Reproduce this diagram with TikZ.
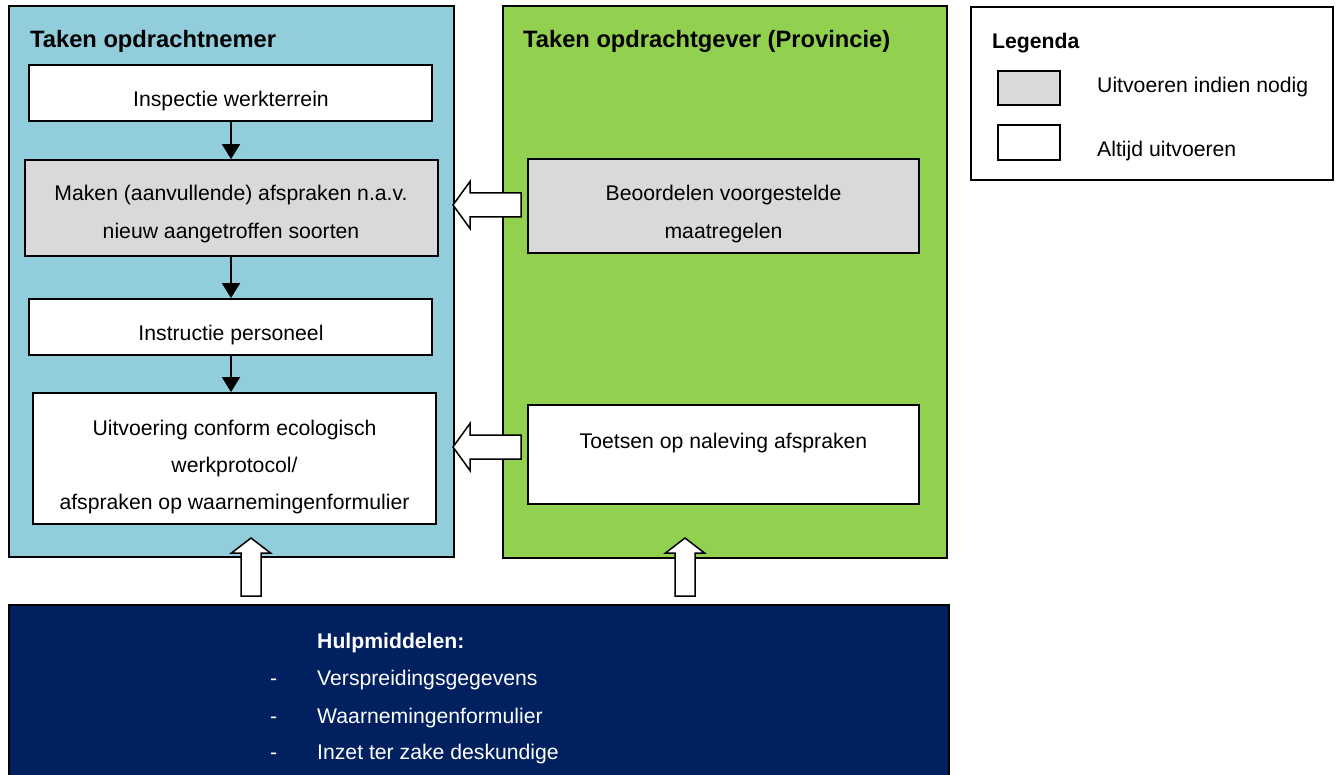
\documentclass[tikz,border=0pt]{standalone}
\usepackage{fontspec}
\setmainfont{Liberation Sans}
\usetikzlibrary{arrows.meta,calc}
\definecolor{panelblue}{HTML}{92CDDC}
\definecolor{panelgreen}{HTML}{92D050}
\definecolor{boxgray}{HTML}{D9D9D9}
\definecolor{navy}{HTML}{002060}
\begin{document}
\begin{tikzpicture}[x=1pt,y=-1pt,
  panel/.style={draw=black,line width=1.8pt,inner sep=0pt},
  taskbox/.style={draw=black,line width=1.8pt,inner sep=0pt},
  txt/.style={inner sep=0pt,anchor=base,font=\fontsize{21.2}{37}\selectfont},
  ttl/.style={inner sep=0pt,anchor=base west,font=\fontsize{23.7}{30}\selectfont\bfseries},
  lgt/.style={inner sep=0pt,anchor=base west,font=\fontsize{21.2}{37}\selectfont},
  flow/.style={line width=1.8pt,-{Triangle[length=15pt,width=18pt]}},
  blockarrow/.style={draw=black,fill=white,line width=1.5pt,line join=miter}
]
\useasboundingbox (0,0) rectangle (1338,775);
% panels
\node[panel,fill=panelblue,minimum width=445,minimum height=551] (pblue) at (231.5,281.5) {};
\node[panel,fill=panelgreen,minimum width=444,minimum height=552] (pgreen) at (725,282) {};
\begin{scope}
\clip (0,0) rectangle (1338,775);
\node[panel,fill=navy,minimum width=940,minimum height=200,anchor=north west] (pnavy) at (8,604) {};
\end{scope}
% titles
\node[ttl] (tblue) at (30,48) {Taken opdrachtnemer};
\node[ttl] (tgreen) at (523,48) {Taken opdrachtgever (Provincie)};
% task boxes
\node[taskbox,fill=white,minimum width=403,minimum height=56] (b1) at (230.5,93) {};
\node[taskbox,fill=boxgray,minimum width=413,minimum height=96] (b2) at (231.5,208) {};
\node[taskbox,fill=white,minimum width=403,minimum height=56] (b3) at (230.5,327) {};
\node[taskbox,fill=white,minimum width=403,minimum height=131] (b4) at (234.5,458.5) {};
\node[taskbox,fill=boxgray,minimum width=391,minimum height=94] (b5) at (723.5,206) {};
\node[taskbox,fill=white,minimum width=391,minimum height=99] (b6) at (723.5,454.5) {};
% box texts
\node[txt] (b1t) at (231,107) {Inspectie werkterrein};
\node[txt] (b2ta) at (231,201) {Maken (aanvullende) afspraken n.a.v.};
\node[txt] (b2tb) at (231,239) {nieuw aangetroffen soorten};
\node[txt] (b3t) at (231,341) {Instructie personeel};
\node[txt] (b4ta) at (234.5,435) {Uitvoering conform ecologisch};
\node[txt] (b4tb) at (234.5,472) {werkprotocol/};
\node[txt] (b4tc) at (234.5,509) {afspraken op waarnemingenformulier};
\node[txt] (b5ta) at (723.5,201) {Beoordelen voorgestelde};
\node[txt] (b5tb) at (723.5,239) {maatregelen};
\node[txt] (b6t) at (723.5,448) {Toetsen op naleving afspraken};
% flow arrows
\draw[flow] (b1.south -| 231,0) -- (231,0 |- b2.north);
\draw[flow] (b2.south -| 231,0) -- (231,0 |- b3.north);
\draw[flow] (b3.south -| 231,0) -- (231,0 |- b4.north);
% block arrows (left)
\coordinate (la1) at (453,205);
\coordinate (la2) at (453,447);
\foreach \t in {la1,la2}{
  \draw[blockarrow] (\t) -- ++(17,-23.5) -- ++(0,11.5) -- ++(51,0) -- ++(0,24) -- ++(-51,0) -- ++(0,11.5) -- cycle;
}
% block arrows (up)
\coordinate (ua1) at (251,538);
\coordinate (ua2) at (685,538);
\foreach \t in {ua1,ua2}{
  \draw[blockarrow] (\t) -- ++(-19.5,15) -- ++(9.5,0) -- ++(0,43) -- ++(20,0) -- ++(0,-43) -- ++(9.5,0) -- cycle;
}
% navy text
\node[lgt,text=white,font=\fontsize{21.2}{37}\selectfont\bfseries] (h0) at (317,648) {Hulpmiddelen:};
\node[lgt,text=white] (h1d) at (270,685) {-};
\node[lgt,text=white] (h1) at (317,685) {Verspreidingsgegevens};
\node[lgt,text=white] (h2d) at (270,723) {-};
\node[lgt,text=white] (h2) at (317,723) {Waarnemingenformulier};
\node[lgt,text=white] (h3d) at (270,759) {-};
\node[lgt,text=white] (h3) at (317,759) {Inzet ter zake deskundige};
% legend
\node[draw=black,line width=1.5pt,fill=white,minimum width=362,minimum height=173,inner sep=0pt] (leg) at (1152,93.5) {};
\node[lgt,font=\fontsize{21.2}{37}\selectfont\bfseries] (legt) at (992,49) {Legenda};
\node[taskbox,fill=boxgray,minimum width=62,minimum height=34] (sw1) at (1029,88) {};
\node[taskbox,fill=white,minimum width=62,minimum height=35] (sw2) at (1029,142.5) {};
\node[lgt] (l1) at (1097,93) {Uitvoeren indien nodig};
\node[lgt] (l2) at (1097,157) {Altijd uitvoeren};
\end{tikzpicture}
\end{document}
